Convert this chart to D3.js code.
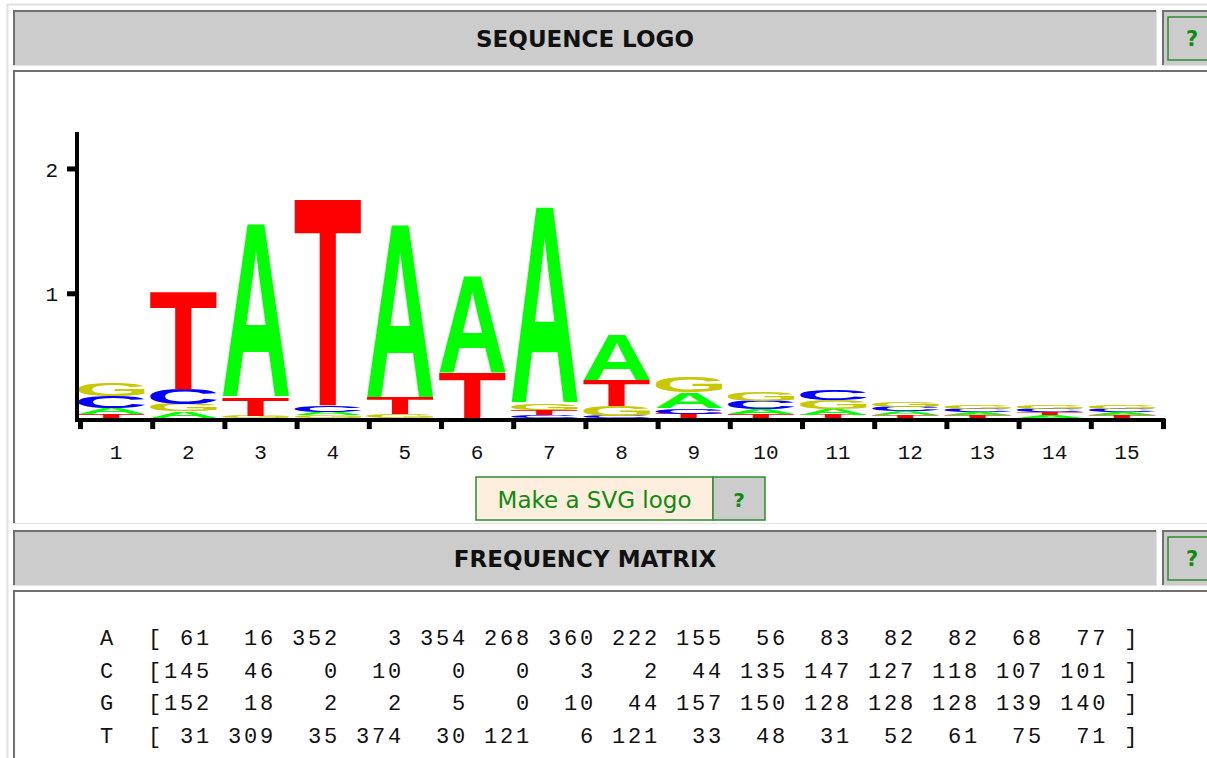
<!DOCTYPE html>
<html>
<head>
<meta charset="utf-8">
<script src="https://cdn.jsdelivr.net/npm/d3@7"></script>
<style>
html,body{margin:0;padding:0;background:#ffffff;overflow:hidden}
svg{display:block}
</style>
</head>
<body>
<svg id="page" width="1207" height="758"></svg>
<script>
// ---------------- data ----------------
const bases = ["A", "C", "G", "T"];
const positions = ["1","2","3","4","5","6","7","8","9","10","11","12","13","14","15"];
const countsA = [61, 16, 352, 3, 354, 268, 360, 222, 155, 56, 83, 82, 82, 68, 77];
const countsC = [145, 46, 0, 10, 0, 0, 3, 2, 44, 135, 147, 127, 118, 107, 101];
const countsG = [152, 18, 2, 2, 5, 0, 10, 44, 157, 150, 128, 128, 128, 139, 140];
const countsT = [31, 309, 35, 374, 30, 121, 6, 121, 33, 48, 31, 52, 61, 75, 71];
const yTickValues = [1, 2];
const titleLogo = "SEQUENCE LOGO";
const titleMatrix = "FREQUENCY MATRIX";
const buttonLabel = "Make a SVG logo";
const helpLabel = "?";

const baseColor = {A: "#00ff00", C: "#0000ff", G: "#c8c800", T: "#ff0000"};
const countsBy = {A: countsA, C: countsC, G: countsG, T: countsT};

// ---------------- page frame ----------------
const svg = d3.select("#page");
const DARK = "#707070", LIGHT = "#e2e2e2";
const GREEN = "#2f8a2f", GREEN_TXT = "#108a10";

svg.append("line").attr("x1", 7).attr("x2", 1207).attr("y1", 4.5).attr("y2", 4.5)
  .attr("stroke", "#e0e0e0").attr("stroke-width", 2);
svg.append("line").attr("x1", 7.5).attr("x2", 7.5).attr("y1", 4).attr("y2", 758)
  .attr("stroke", "#e0e0e0").attr("stroke-width", 2);

function insetCell(x, y, w, h, fill) {
  const g = svg.append("g");
  g.append("rect").attr("x", x).attr("y", y).attr("width", w).attr("height", h).attr("fill", fill);
  g.append("line").attr("x1", x).attr("x2", x + w).attr("y1", y + 1).attr("y2", y + 1)
    .attr("stroke", DARK).attr("stroke-width", 2);
  g.append("line").attr("x1", x + 1).attr("x2", x + 1).attr("y1", y).attr("y2", y + h)
    .attr("stroke", DARK).attr("stroke-width", 2);
  g.append("line").attr("x1", x).attr("x2", x + w).attr("y1", y + h - 0.5).attr("y2", y + h - 0.5)
    .attr("stroke", LIGHT).attr("stroke-width", 1);
  g.append("line").attr("x1", x + w - 0.5).attr("x2", x + w - 0.5).attr("y1", y).attr("y2", y + h)
    .attr("stroke", LIGHT).attr("stroke-width", 1);
  return g;
}

function header(y, label) {
  insetCell(13, y, 1144, 56, "#cccccc");
  svg.append("text").attr("x", 585).attr("y", y + 37)
    .attr("text-anchor", "middle")
    .attr("font-family", "'DejaVu Sans', Verdana, sans-serif")
    .attr("font-weight", "bold").attr("font-size", 23).attr("fill", "#111")
    .text(label);
  insetCell(1162, y, 60, 56, "#cccccc");
  svg.append("rect").attr("x", 1168).attr("y", y + 7).attr("width", 60).attr("height", 43)
    .attr("fill", "#cccccc").attr("stroke", GREEN).attr("stroke-width", 1.5);
  svg.append("text").attr("x", 1192).attr("y", y + 36)
    .attr("text-anchor", "middle")
    .attr("font-family", "'DejaVu Sans', Verdana, sans-serif")
    .attr("font-weight", "bold").attr("font-size", 21).attr("fill", GREEN_TXT)
    .text(helpLabel);
}

header(10, titleLogo);
insetCell(13, 70, 1210, 454, "#ffffff");
header(530, titleMatrix);
insetCell(13, 590, 1210, 180, "#ffffff");

// ---------------- logo scales ----------------
const xEdge = d3.scaleLinear().domain([0, positions.length]).range([80, 1163]);
const xBand = d3.scaleBand().domain(positions).range([80, 1163]).padding(0);
const y = d3.scaleLinear().domain([0, 2.292]).range([418.1, 132]);

// information content per column
const columns = positions.map((pos, i) => {
  const n = d3.sum(bases, b => countsBy[b][i]);
  const probs = bases.map(b => ({base: b, count: countsBy[b][i], p: countsBy[b][i] / n}));
  const H = -d3.sum(probs, d => d.p > 0 ? d.p * Math.log2(d.p) : 0);
  const ic = 2 - H;
  probs.forEach(d => d.bits = d.p * ic);
  probs.sort((a, b) => a.count - b.count);
  return {pos, ic, letters: probs.filter(d => d.count > 0)};
});

// glyph ink metrics (letters are stretched to fill their box)
const ctx = document.createElement("canvas").getContext("2d");
const GLYPH_FONT_FAMILY = "Liberation Sans";
ctx.font = "bold 200px '" + GLYPH_FONT_FAMILY + "'";
const metrics = {};
bases.forEach(b => {
  const m = ctx.measureText(b);
  metrics[b] = {l: m.actualBoundingBoxLeft, r: m.actualBoundingBoxRight,
                a: m.actualBoundingBoxAscent, d: m.actualBoundingBoxDescent};
});

const glyphPad = 1.5;
const logo = svg.append("g");
columns.forEach(col => {
  let top = y(0);
  const x0 = xBand(col.pos) - 2;
  const w = xBand.bandwidth() * 0.925;
  col.letters.forEach(d => {
    const h = (y(0) - y(d.bits)) + glyphPad;
    const yTop = top - h;
    const m = metrics[d.base];
    const sx = w / (m.l + m.r);
    const sy = h / (m.a + m.d);
    logo.append("text")
      .attr("x", 0).attr("y", 0)
      .attr("font-family", GLYPH_FONT_FAMILY).attr("font-weight", "bold").attr("font-size", 200)
      .attr("fill", baseColor[d.base])
      .attr("transform", `translate(${x0 + m.l * sx},${yTop + m.a * sy}) scale(${sx},${sy})`)
      .text(d.base);
    top = yTop;
  });
});

// ---------------- axes ----------------
const axisG = svg.append("g");
axisG.append("line").attr("x1", 77).attr("x2", 77).attr("y1", y.range()[1]).attr("y2", y(0) + 3.5)
  .attr("stroke", "#000").attr("stroke-width", 4);
axisG.append("line").attr("x1", 75).attr("x2", xEdge(positions.length) + 2.5)
  .attr("y1", y(0) + 1.8).attr("y2", y(0) + 1.8)
  .attr("stroke", "#000").attr("stroke-width", 4);

const yAxis = d3.axisLeft(y).tickValues(yTickValues).tickSize(10).tickSizeOuter(0).tickPadding(9)
  .tickFormat(d3.format("d"));
const yAxisG = axisG.append("g").attr("transform", "translate(77,0)").call(yAxis);
yAxisG.select(".domain").remove();
yAxisG.selectAll(".tick line").attr("stroke", "#000").attr("stroke-width", 5);
yAxisG.selectAll(".tick text").attr("font-family", "'Liberation Mono', 'Courier New', monospace")
  .attr("font-size", 21).attr("fill", "#111").attr("dy", "0.36em");

const xAxis = d3.axisBottom(xEdge).tickValues(d3.range(positions.length + 1)).tickSize(10)
  .tickSizeOuter(0).tickFormat("");
const xAxisG = axisG.append("g").attr("transform", `translate(0,${y(0) + 1})`).call(xAxis);
xAxisG.select(".domain").remove();
xAxisG.selectAll(".tick line").attr("stroke", "#000").attr("stroke-width", 5);

const xLab = d3.axisBottom(xBand).tickSize(0).tickPadding(0);
const xLabG = axisG.append("g").attr("transform", `translate(0,${y(0) + 26})`).call(xLab);
xLabG.select(".domain").remove();
xLabG.selectAll(".tick text").attr("font-family", "'Liberation Mono', 'Courier New', monospace")
  .attr("font-size", 21).attr("fill", "#111").attr("dy", "0.71em");

// ---------------- SVG logo button ----------------
svg.append("rect").attr("x", 476).attr("y", 477).attr("width", 237).attr("height", 43)
  .attr("fill", "#fdeedd").attr("stroke", GREEN).attr("stroke-width", 1.5);
svg.append("rect").attr("x", 713).attr("y", 477).attr("width", 52).attr("height", 43)
  .attr("fill", "#cccccc").attr("stroke", GREEN).attr("stroke-width", 1.5);
svg.append("text").attr("x", 594.5).attr("y", 508).attr("text-anchor", "middle")
  .attr("font-family", "'DejaVu Sans', Verdana, sans-serif").attr("font-size", 23)
  .attr("fill", GREEN_TXT).text(buttonLabel);
svg.append("text").attr("x", 739).attr("y", 507).attr("text-anchor", "middle")
  .attr("font-family", "'DejaVu Sans', Verdana, sans-serif").attr("font-weight", "bold")
  .attr("font-size", 20).attr("fill", GREEN_TXT).text(helpLabel);

// ---------------- frequency matrix ----------------
const rowY = d3.scalePoint().domain(bases).range([645, 742.5]);
const pad3 = v => String(v).padStart(3, " ");
svg.append("g").selectAll("text").data(bases).join("text")
  .attr("x", 100).attr("y", b => rowY(b))
  .attr("font-family", "'Liberation Mono', 'Courier New', monospace")
  .attr("font-size", 22).attr("letter-spacing", 2.8).attr("fill", "#111")
  .style("white-space", "pre")
  .text(b => b + "  [" + countsBy[b].map(pad3).join(" ") + " ]");
</script>
</body>
</html>
